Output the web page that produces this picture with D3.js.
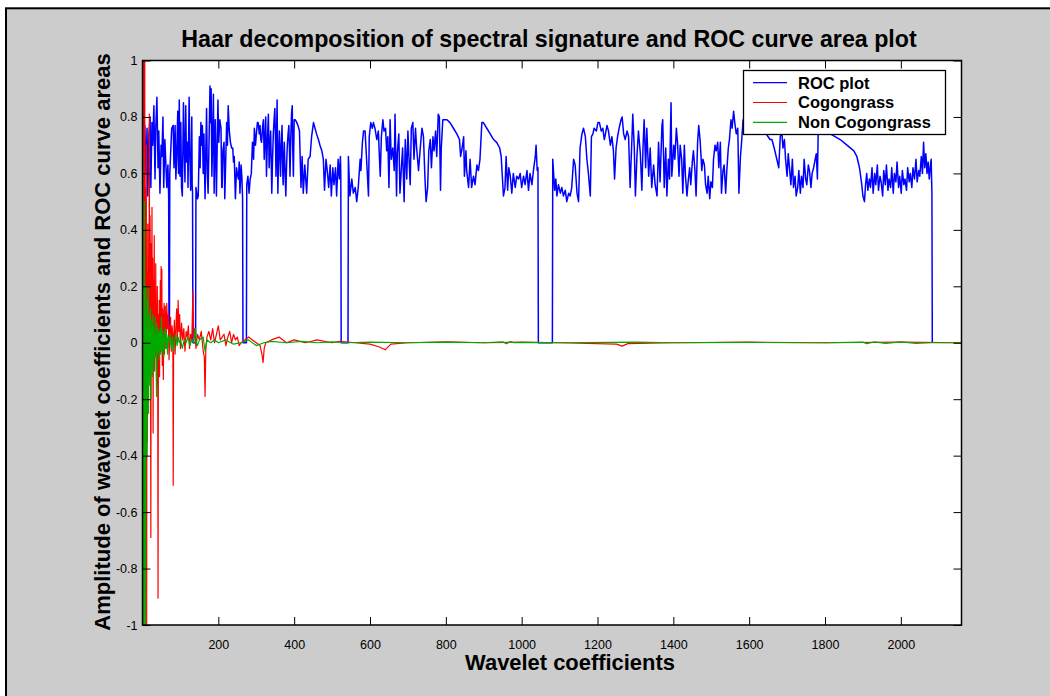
<!DOCTYPE html>
<html><head><meta charset="utf-8">
<script src="https://cdn.jsdelivr.net/npm/d3@7"></script>
<style>body{margin:0;background:#fff} svg text{font-family:Arial,"Liberation Sans",sans-serif}</style>
</head><body><svg id="c" width="1050" height="696"></svg>
<script>
// ---- data: [wavelet coefficient index, value] ----
const rocPlot = [
[1,0.75],[3,0.55],[6,0.77],[9,0.60],[12,0.76],[14,0.52],[17,0.74],[20,0.80],[22,0.55],[25,0.78],[27,0.70],[30,0.84],[33,0.58],[35,0.76],[38,0.87],[41,0.62],[43,0.75],[46,0.53],[49,0.70],[51,0.66],[54,0.80],[56,0.55],[59,0.72],[62,0.62],[64,0.55],[67,0.63],[69,0.52],[70,0],[71,0],[72,0.60],
[77,0.76],[81,0.77],[83,0.62],[86,0.77],[88,0.58],[90,0.65],[93,0.82],[95,0.60],[97,0.86],[99,0.59],[101,0.78],[103,0.55],[105,0.52],[108,0.85],[110,0.69],[112,0.57],[114,0.84],[116,0.64],[119,0.71],[120,0.55],[123,0.87],[125,0.66],[127,0.54],[128,0.58],[130,0.80],[131,0.56],[132,0.53],[133,0],[140,0],[141,0.55],
[143,0.53],[145,0.51],[147,0.52],[150,0.73],[152,0.62],[154,0.78],[156,0.70],[158,0.77],[160,0.60],[162,0.74],[165,0.51],[167,0.68],[169,0.83],[171,0.60],[173,0.53],[176,0.75],[178,0.91],[179,0.78],[181,0.90],[183,0.59],[185,0.72],[187,0.88],[189,0.53],[190,0.65],[192,0.79],[194,0.60],[195,0.52],[197,0.70],[199,0.86],[201,0.71],[204,0.79],[207,0.76],[209,0.55],[210,0.55],[212,0.68],[215,0.71],[217,0.51],[219,0.62],[222,0.78],[224,0.70],[226,0.84],[229,0.75],[232,0.71],[235,0.69],[238,0.69],[240,0.64],[242,0.66],[245,0.51],[248,0.62],[250,0.60],[253,0.58],[255,0.64],[257,0.53],[260,0.63],[262,0.59],[264,0.51],[265,0],[274,0],[275,0.56],
[278,0.59],[281,0.53],[284,0.58],[287,0.60],[290,0.71],[293,0.65],[295,0.76],[298,0.70],[301,0.75],[303,0.78],[305,0.78],[308,0.74],[310,0.77],[312,0.72],[314,0.71],[317,0.77],[319,0.79],[321,0.65],[323,0.72],[325,0.80],[327,0.59],[329,0.70],[332,0.81],[334,0.62],[336,0.70],[338,0.75],[341,0.53],[343,0.65],[345,0.74],[347,0.79],[349,0.83],[351,0.70],[352,0.59],[355,0.86],[357,0.53],[359,0.66],[361,0.75],[364,0.59],[366,0.70],[368,0.77],[370,0.60],[371,0.56],[373,0.67],[374,0.71],[376,0.60],[378,0.52],[380,0.63],[382,0.70],[384,0.74],[386,0.77],[388,0.66],[389,0.59],[391,0.72],[393,0.81],[395,0.84],[396,0.70],[398,0.59],[400,0.79],[403,0.79],[407,0.78],[410,0.77],[414,0.75],
[415,0.70],[418,0.55],[421,0.66],[424,0.53],[428,0.63],[433,0.53],[437,0.65],[442,0.66],[446,0.73],[451,0.78],[455,0.76],[459,0.74],[464,0.72],[468,0.70],[473,0.68],[477,0.65],[480,0.54],[484,0.65],[488,0.60],[491,0.55],[495,0.63],[498,0.52],[502,0.62],[505,0.56],[509,0.62],[512,0.52],[516,0.65],[519,0.58],[522,0.66],[523,0.60],[524,0],[542,0],
[543,0.66],[547,0.52],[552,0.58],[556,0.53],[561,0.55],[565,0.50],[569,0.55],[574,0.65],[576,0.61],[580,0.71],[583,0.75],[587,0.75],[591,0.65],[596,0.52],[598,0.73],[602,0.78],[606,0.76],[609,0.78],[613,0.76],[618,0.72],[622,0.75],[627,0.59],[630,0.73],[634,0.79],[637,0.75],[641,0.76],[644,0.68],[647,0.73],[650,0.55],[653,0.79],[656,0.65],[660,0.69],[664,0.61],[666,0.81],[670,0.52],[672,0.67],[676,0.74],[679,0.53],[682,0.60],[686,0.69],[690,0.50],[693,0.72],[697,0.58],[700,0.75],[703,0.65],[706,0.56],[709,0.76],[713,0.78],[716,0.65],[720,0.76],[723,0.69],[728,0.61],[732,0.68],[737,0.76],[741,0.73],[745,0.58],[748,0.50],[752,0.55],[755,0.68],[759,0.72],[762,0.62],[766,0.73],[769,0.68],[773,0.75],[776,0.66],[780,0.81],[783,0.80],[786,0.54],[788,0.69],[792,0.79],[795,0.79],[803,0.79],[811,0.78],[820,0.76],[829,0.74],[836,0.72],[839,0.66],[843,0.69],[847,0.73],[849,0.59],[853,0.68],[855,0.61],[860,0.55],[864,0.65],[868,0.55],[873,0.59],[877,0.56],[882,0.63],[886,0.61],[890,0.65],[895,0.78],[899,0.78],[908,0.76],[917,0.74],[926,0.72],[934,0.71],[942,0.69],[946,0.66],[949,0.59],[952,0.52],[956,0.55],[959,0.66],[963,0.54],[966,0.62],[970,0.59],[974,0.53],[978,0.60],[983,0.55],[987,0.59],[992,0.58],[996,0.60],[1000,0.55],[1005,0.59],[1009,0.56],[1014,0.61],[1018,0.54],[1022,0.60],[1027,0.56],[1031,0.61],[1036,0.66],[1038,0.70],[1041,0.61],[1043,0.62],[1044,0],[1081,0],
[1082,0.65],[1087,0.54],[1090,0.58],[1093,0.52],[1097,0.56],[1102,0.53],[1106,0.55],[1110,0.52],[1115,0.54],[1119,0.50],[1124,0.53],[1128,0.52],[1132,0.55],[1137,0.65],[1141,0.63],[1146,0.53],[1150,0.50],[1154,0.69],[1159,0.74],[1163,0.76],[1168,0.73],[1172,0.65],[1176,0.60],[1181,0.52],[1184,0.73],[1188,0.74],[1191,0.76],[1197,0.75],[1201,0.78],[1205,0.78],[1210,0.75],[1214,0.76],[1218,0.72],[1221,0.74],[1225,0.77],[1229,0.75],[1234,0.70],[1238,0.73],[1242,0.68],[1245,0.58],[1249,0.69],[1253,0.73],[1257,0.76],[1262,0.79],[1265,0.80],[1269,0.74],[1273,0.72],[1278,0.75],[1282,0.73],[1286,0.55],[1291,0.73],[1293,0.81],[1297,0.69],[1300,0.52],[1304,0.66],[1308,0.75],[1313,0.67],[1317,0.54],[1320,0.69],[1323,0.79],[1327,0.62],[1330,0.76],[1335,0.59],
[1339,0.69],[1343,0.55],[1348,0.63],[1352,0.56],[1357,0.52],[1361,0.71],[1365,0.57],[1370,0.77],[1372,0.79],[1376,0.55],[1380,0.69],[1383,0.52],[1387,0.65],[1390,0.58],[1394,0.85],[1396,0.59],[1401,0.70],[1404,0.65],[1408,0.76],[1411,0.71],[1415,0.59],[1418,0.70],[1422,0.65],[1425,0.53],[1429,0.70],[1432,0.59],[1436,0.52],[1439,0.57],[1443,0.62],[1446,0.56],[1450,0.64],[1453,0.68],[1457,0.61],[1460,0.52],[1464,0.71],[1467,0.77],[1471,0.71],[1475,0.61],[1478,0.65],[1482,0.63],[1485,0.56],[1489,0.53],[1492,0.59],[1496,0.51],[1499,0.57],[1503,0.55],[1506,0.65],[1510,0.70],[1513,0.68],[1517,0.71],[1520,0.62],[1524,0.71],[1527,0.53],[1531,0.61],[1534,0.63],[1538,0.53],[1541,0.61],[1545,0.69],[1548,0.72],[1552,0.79],[1555,0.76],[1559,0.82],[1562,0.78],[1566,0.74],[1570,0.76],[1573,0.53],[1577,0.66],[1580,0.71],[1584,0.79],
[1588,0.76],[1592,0.81],[1596,0.75],[1600,0.79],[1604,0.83],[1608,0.77],[1612,0.80],[1616,0.76],[1620,0.82],[1625,0.78],[1630,0.80],[1635,0.79],[1640,0.77],[1645,0.74],[1650,0.73],[1655,0.72],[1660,0.72],[1666,0.69],[1673,0.65],[1678,0.62],[1682,0.73],[1686,0.75],[1689,0.69],[1693,0.72],[1696,0.65],[1700,0.59],[1703,0.67],[1707,0.61],[1710,0.56],[1714,0.65],[1717,0.55],[1721,0.59],[1724,0.52],[1728,0.55],[1731,0.61],[1735,0.53],[1738,0.59],[1742,0.55],[1745,0.65],[1749,0.58],[1752,0.56],[1756,0.63],[1759,0.61],[1763,0.55],[1766,0.60],[1770,0.62],[1774,0.65],[1777,0.67],[1780,0.58],[1782,0.74],[1784,0.80],[1790,0.79],[1796,0.80],[1802,0.78],[1808,0.77],[1814,0.74],[1840,0.72],[1858,0.70],[1876,0.68],[1884,0.66],[1891,0.62],[1897,0.56],[1900,0.52],[1904,0.50],
[1907,0.56],[1910,0.60],[1913,0.54],[1917,0.58],[1920,0.55],[1924,0.62],[1927,0.53],[1931,0.60],[1934,0.56],[1938,0.63],[1941,0.54],[1945,0.59],[1948,0.57],[1952,0.52],[1955,0.61],[1959,0.56],[1962,0.63],[1966,0.54],[1969,0.58],[1973,0.55],[1976,0.62],[1980,0.53],[1983,0.60],[1987,0.57],[1990,0.64],[1994,0.55],[1997,0.59],[2001,0.53],[2004,0.61],[2008,0.56],[2011,0.58],[2015,0.54],[2018,0.62],[2022,0.57],[2025,0.60],[2029,0.55],[2032,0.62],[2036,0.58],[2040,0.65],[2043,0.57],[2047,0.61],[2050,0.59],[2054,0.66],[2057,0.60],[2060,0.71],[2063,0.62],[2066,0.67],[2069,0.60],[2072,0.64],[2075,0.58],[2078,0.63],[2080,0.65],[2082,0.53],[2083,0]
];
const cogongrass = [
[1,0.35],[2,1.0],[3,-1.0],[4,1.0],[5,-0.2],[6,1.0],[7,-1.0],[8,0.55],[9,-0.59],[10,0.7],[11,-1.0],[12,0.25],[13,-0.35],[14,0.42],[15,-0.15],[16,0.3],[17,-0.1],[18,0.81],[19,-0.05],[20,0.45],[21,0.05],[22,-0.69],[23,0.35],[24,0.1],[25,0.48],[26,-0.08],[27,0.3],[28,-0.32],[29,0.22],[30,0.05],[31,0.38],[32,-0.1],[33,0.18],[34,-0.05],[35,0.28],[36,0.02],[37,0.12],[38,-0.15],[39,0.2],[40,0.0],[41,-0.905],[42,0.1],[43,-0.05],[44,0.15],[45,-0.12],[46,0.08],[47,0.22],[48,-0.03],[49,0.27],[50,0.1],[51,0.26],[52,-0.08],[53,0.12],[54,0.02],[55,-0.13],[56,0.06],[57,0.14],[58,-0.04],[59,0.1],[60,0.13],[62,-0.02],[64,0.14],[66,0.05],[68,0.1],[70,-0.06],[72,0.04],[74,0.09],[76,-0.03],[78,0.06],[80,0.02],[81,-0.505],[82,0.0],[84,0.08],[86,-0.04],[88,0.05],[90,0.12],[92,0.01],[94,0.15],[96,0.04],[98,0.1],[100,-0.02],[103,0.07],[106,0.01],[109,0.05],[112,-0.03],[115,0.04],[118,0.02],[121,0.06],[124,-0.02],[127,0.03],[130,0.01],[133,0.185],[135,0.02],[138,0.05],[141,-0.02],[145,0.03],[150,0.01],[155,0.04],[160,-0.03],[163,-0.05],[165,-0.19],[167,-0.02],[170,0.02],[175,0.04],[180,0.01],[185,0.05],[190,0.0],[195,0.03],[200,0.06],[205,0.01],[210,0.02],[215,0.03],[220,-0.01],[225,0.02],[230,0.04],[235,0.0],[240,0.03],[245,0.01],[250,0.02],[255,-0.01],[260,0.0],[270,0.01],[280,0.02],[290,0.01],[300,0.0],[310,-0.01],[315,-0.04],[318,-0.07],[321,-0.02],[325,0.0],[340,0.01],[360,0.02],[380,0.0],[400,0.01],[430,0.0],[460,0.01],[500,0.0],[520,0.005],[560,0.0],[600,-0.005],[625,-0.015],[640,-0.025],[655,-0.005],[700,0.0],[800,0.003],[900,0.0],[1000,0.002],[1100,0.0],[1250,-0.005],[1265,-0.012],[1280,-0.003],[1400,0.0],[1600,0.002],[1800,0.0],[2000,0.002],[2160,0.0]
];
const nonCogongrass = [
[1,0.67],[2,-1.0],[3,0.3],[4,-1.0],[5,0.5],[6,-0.8],[7,0.1],[8,-1.0],[9,0.2],[10,-0.3],[11,0.05],[12,-0.4],[13,0.15],[14,-0.1],[15,0.2],[16,-0.25],[17,0.05],[18,-0.15],[19,0.1],[20,-0.05],[21,0.12],[22,-0.2],[23,0.08],[24,-0.08],[25,0.04],[26,-0.12],[27,0.1],[28,-0.03],[29,0.06],[30,-0.1],[31,0.02],[32,-0.05],[33,0.09],[34,-0.02],[35,0.03],[36,-0.08],[37,-0.19],[38,0.07],[39,-0.04],[40,0.02],[41,0.05],[42,-0.03],[43,0.03],[44,-0.06],[45,0.04],[46,-0.02],[47,0.05],[48,-0.04],[49,0.02],[50,0.09],[52,-0.03],[54,0.04],[56,-0.05],[58,0.02],[60,0.05],[62,-0.02],[64,0.03],[66,-0.04],[68,0.02],[70,0.0],[73,0.03],[76,-0.02],[79,0.02],[82,-0.03],[85,0.01],[88,0.03],[91,-0.01],[94,0.02],[97,0.0],[100,0.01],[105,-0.02],[110,0.01],[115,0.0],[120,0.02],[125,-0.01],[130,0.01],[135,0.0],[140,0.05],[142,0.0],[145,-0.01],[150,0.01],[160,0.02],[165,-0.03],[170,0.01],[180,0.0],[190,0.01],[200,0.0],[220,0.01],[240,-0.005],[260,0.0],[280,0.01],[300,-0.01],[320,0.0],[340,0.005],[380,0.0],[420,0.005],[460,0.0],[500,0.003],[540,0.0],[600,0.002],[700,0.0],[800,0.002],[900,0.0],[950,0.003],[960,-0.003],[970,0.004],[980,0.0],[1000,0.001],[1100,0.0],[1300,0.002],[1400,0.0],[1600,0.001],[1800,0.0],[1900,0.002],[1910,-0.003],[1930,0.003],[1960,-0.002],[2000,0.003],[2040,-0.002],[2080,0.0],[2160,0.0]
];
const xTicks = [200,400,600,800,1000,1200,1400,1600,1800,2000];
const yTicks = [-1,-0.8,-0.6,-0.4,-0.2,0,0.2,0.4,0.6,0.8,1];
const seriesNames = ["ROC plot","Cogongrass","Non Cogongrass"];
const seriesColors = ["#0000ff","#ff0000","#00aa00"];
const titleText = "Haar decomposition of spectral signature and ROC curve area plot";
const xLabelText = "Wavelet coefficients";
const yLabelText = "Amplitude of wavelet coefficients and ROC curve areas";

// ---- drawing ----
const svg = d3.select("#c");
svg.append("rect").attr("x",6).attr("y",8.3).attr("width",1100).attr("height",800)
  .attr("fill","#cccccc").attr("stroke","#000").attr("stroke-width",2);

const L=142.5, R=961.5, T=60.5, B=625;
const x = d3.scaleLinear().domain([0,2160]).range([L,R]);
const y = d3.scaleLinear().domain([-1,1]).range([B,T]);

svg.append("rect").attr("x",L).attr("y",T).attr("width",R-L).attr("height",B-T).attr("fill","#fff");
svg.append("clipPath").attr("id","pc").append("rect").attr("x",L).attr("y",T).attr("width",R-L).attr("height",B-T);

const line = d3.line().x(d=>x(d[0])).y(d=>y(d[1]));
const g = svg.append("g").attr("clip-path","url(#pc)");
[rocPlot,cogongrass,nonCogongrass].forEach((s,i)=>{
  g.append("path").datum(s).attr("d",line).attr("fill","none")
   .attr("stroke",seriesColors[i]).attr("stroke-width",i===0?1.5:1.2).attr("stroke-linejoin","round");
});

const fmtY = d => d===0 ? "0" : String(+d.toFixed(1));
const fmtX = d => String(d);
function styleAxis(sel){
  sel.attr("font-size",null).attr("font-family",null);
  sel.select(".domain").remove();
  sel.selectAll(".tick line").attr("stroke","#000");
  sel.selectAll(".tick text").attr("fill","#000")
    .style("font-size","12.5px").style("font-family","Arial, 'Liberation Sans', sans-serif");
}
svg.append("g").attr("transform",`translate(0,${B})`)
  .call(d3.axisBottom(x).tickValues(xTicks).tickSizeInner(-8).tickSizeOuter(0).tickPadding(15).tickFormat(fmtX)).call(styleAxis);
svg.append("g").attr("transform",`translate(0,${T})`)
  .call(d3.axisTop(x).tickValues(xTicks).tickSizeInner(-8).tickSizeOuter(0).tickFormat("")).call(styleAxis);
svg.append("g").attr("transform",`translate(${L},0)`)
  .call(d3.axisLeft(y).tickValues(yTicks).tickSizeInner(-8).tickSizeOuter(0).tickPadding(5).tickFormat(fmtY)).call(styleAxis);
svg.append("g").attr("transform",`translate(${R},0)`)
  .call(d3.axisRight(y).tickValues(yTicks).tickSizeInner(-8).tickSizeOuter(0).tickFormat("")).call(styleAxis);

svg.append("rect").attr("x",L).attr("y",T).attr("width",R-L).attr("height",B-T)
  .attr("fill","none").attr("stroke","#000").attr("stroke-width",1.5);

function fitText(t, target){
  const base = 20;
  t.style("font-size", base+"px");
  const w = t.node().getComputedTextLength();
  t.style("font-size", (base*target/w)+"px");
}
const title = svg.append("text").attr("x",549).attr("y",47).attr("text-anchor","middle")
  .attr("font-weight","bold").attr("fill","#000").text(titleText);
fitText(title, 736);
const xl = svg.append("text").attr("x",570).attr("y",670).attr("text-anchor","middle")
  .attr("font-weight","bold").attr("fill","#000").text(xLabelText);
fitText(xl, 210);
const yl = svg.append("text").attr("transform","translate(110,342) rotate(-90)").attr("text-anchor","middle")
  .attr("font-weight","bold").attr("fill","#000").text(yLabelText);
fitText(yl, 578);

// legend
const lg = svg.append("g");
lg.append("rect").attr("x",743.5).attr("y",70.5).attr("width",202).attr("height",64)
  .attr("fill","#fff").attr("stroke","#000").attr("stroke-width",1.3);
const rowY = d3.scalePoint().domain(seriesNames).range([82.7,122.3]);
seriesNames.forEach((n,i)=>{
  lg.append("line").attr("x1",753).attr("x2",787).attr("y1",rowY(n)).attr("y2",rowY(n))
    .attr("stroke",seriesColors[i]).attr("stroke-width",1.2);
  lg.append("text").attr("x",798).attr("y",rowY(n)).attr("dy","0.36em")
    .attr("font-weight","bold").style("font-size","16.5px").attr("fill","#000").text(n);
});
</script></body></html>
